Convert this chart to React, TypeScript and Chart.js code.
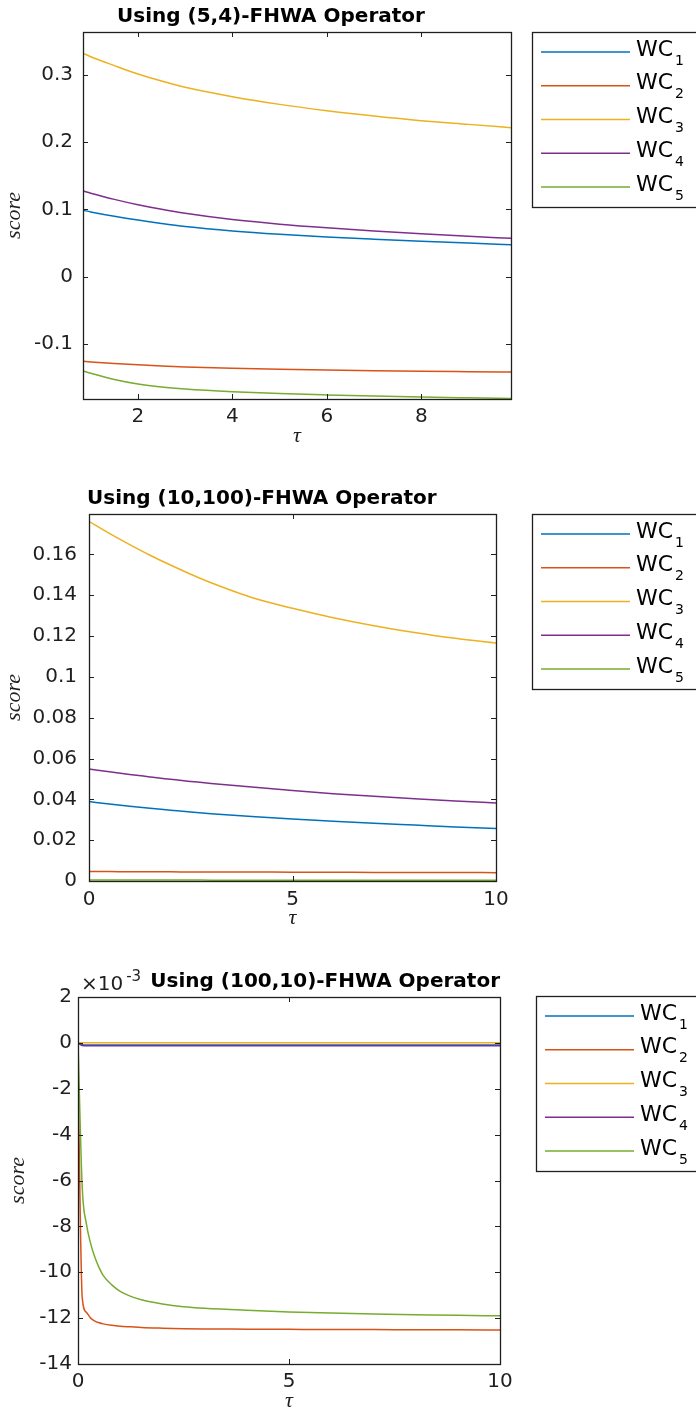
import React, { useEffect, useRef } from 'react';
import { Chart, registerables } from 'chart.js';

Chart.register(...registerables);

// ---------- shared ----------
const COLORS = ['#0072BD', '#D95319', '#EDB120', '#7E2F8E', '#77AC30'];
const SERIES_BASE = 'WC';
const SERIES_SUB = ['1', '2', '3', '4', '5'];
const Y_LABEL = 'score';
const X_LABEL = 'τ';

// ---------- chart 1: (5,4)-FHWA ----------
const TITLE_A = 'Using (5,4)-FHWA Operator';
const TAU_A = [0.84, 1, 1.5, 2, 2.5, 3, 4, 5, 6, 7, 8, 9, 9.9];
const A_WC1 = [0.0985, 0.0962, 0.0897, 0.084, 0.079, 0.0746, 0.068, 0.063, 0.059, 0.0557, 0.0527, 0.0499, 0.0475];
const A_WC2 = [-0.1258, -0.1267, -0.129, -0.1309, -0.1326, -0.134, -0.136, -0.1375, -0.1387, -0.1397, -0.1405, -0.1411, -0.1416];
const A_WC3 = [0.3317, 0.3267, 0.3135, 0.301, 0.2905, 0.2812, 0.2673, 0.2559, 0.2465, 0.2386, 0.2317, 0.2262, 0.2213];
const A_WC4 = [0.1272, 0.124, 0.1148, 0.1068, 0.1, 0.0941, 0.0848, 0.078, 0.0726, 0.068, 0.0638, 0.06, 0.0569];
const A_WC5 = [-0.14, -0.1435, -0.1527, -0.1595, -0.164, -0.167, -0.171, -0.1737, -0.1757, -0.1774, -0.1788, -0.1799, -0.1808];
const A_X = { min: 0.836, max: 9.9, step: 2 };
const A_Y = { min: -0.1817, max: 0.3634, step: 0.1 };

// ---------- chart 2: (10,100)-FHWA ----------
const TITLE_B = 'Using (10,100)-FHWA Operator';
const TAU_B = [0, 0.5, 1, 1.5, 2, 2.5, 3, 4, 5, 6, 7, 8, 9, 10];
const B_WC1 = [0.0389, 0.0377, 0.0366, 0.0356, 0.0347, 0.0338, 0.033, 0.0316, 0.0304, 0.0293, 0.0283, 0.0274, 0.0265, 0.0257];
const B_WC2 = [0.0046, 0.0046, 0.0045, 0.0045, 0.0045, 0.0044, 0.0044, 0.0044, 0.0043, 0.0043, 0.0042, 0.0042, 0.0042, 0.0041];
const B_WC3 = [0.1762, 0.1703, 0.1648, 0.1596, 0.1548, 0.1503, 0.1461, 0.1389, 0.1336, 0.129, 0.1251, 0.1218, 0.1189, 0.1166];
const B_WC4 = [0.0549, 0.0535, 0.0522, 0.051, 0.0498, 0.0488, 0.0478, 0.046, 0.0443, 0.0428, 0.0415, 0.0403, 0.0392, 0.0382];
const B_WC5 = [0.0005, 0.0005, 0.0005, 0.0005, 0.0005, 0.0005, 0.0004, 0.0004, 0.0004, 0.0004, 0.0004, 0.0004, 0.0004, 0.0004];
const B_X = { min: 0, max: 10, step: 5 };
const B_Y = { min: 0, max: 0.1798, step: 0.02 };

// ---------- chart 3: (100,10)-FHWA (values in units of 10^-3) ----------
const TITLE_C = 'Using (100,10)-FHWA Operator';
const EXP_BASE = '×10';
const EXP_POWER = '-3';
const TAU_C = [0, 0.1, 0.2, 0.3, 0.4, 0.5, 0.6, 0.8, 1, 1.25, 1.5, 2, 2.5, 3, 4, 5, 6, 7, 8, 9, 10];
const C_WC1 = [0, -0.08, -0.09, -0.09, -0.09, -0.09, -0.09, -0.09, -0.09, -0.09, -0.09, -0.09, -0.09, -0.09, -0.09, -0.09, -0.09, -0.09, -0.09, -0.09, -0.09];
const C_WC2 = [-1.3, -11.1, -11.75, -12.0, -12.13, -12.2, -12.25, -12.31, -12.35, -12.38, -12.41, -12.44, -12.46, -12.47, -12.48, -12.49, -12.5, -12.5, -12.51, -12.51, -12.52];
const C_WC3 = [0, 0.01, 0.01, 0.01, 0.01, 0.01, 0.01, 0.01, 0.01, 0.01, 0.01, 0.01, 0.01, 0.01, 0.01, 0.01, 0.01, 0.01, 0.01, 0.01, 0.01];
const C_WC4 = [0, -0.12, -0.13, -0.13, -0.13, -0.13, -0.13, -0.13, -0.13, -0.13, -0.13, -0.13, -0.13, -0.13, -0.13, -0.13, -0.13, -0.13, -0.13, -0.13, -0.13];
const C_WC5 = [0, -6.3, -7.9, -8.75, -9.35, -9.8, -10.15, -10.55, -10.83, -11.05, -11.2, -11.38, -11.5, -11.57, -11.66, -11.73, -11.78, -11.82, -11.85, -11.88, -11.9];
const C_X = { min: 0, max: 10, step: 5 };
const C_Y = { min: -14, max: 2, step: 2 };

// ---------- styling ----------
const W = 696;
const AXIS_COLOR = '#1f1f1f';
const TICK_FONT = { family: "'DejaVu Sans'", size: 20 };

type Area = { left: number; right: number; top: number; bottom: number };
type Decor = {
  title: string;
  titleX: number;
  titleY: number;
  titleAlign: CanvasTextAlign;
  legendX: number;
  legendY: number;
  yLabelX: number;
  exponent?: { x: number; y: number };
};

function fmt(v: number) {
  return String(parseFloat(Number(v).toFixed(4)));
}

function makeDecor(d: Decor) {
  return {
    id: 'matlabDecor',
    afterDatasetsDraw(chart: any) {
      const { ctx, chartArea: a, scales } = chart;
      ctx.save();
      // axes box
      ctx.strokeStyle = AXIS_COLOR;
      ctx.lineWidth = 1.3;
      ctx.strokeRect(a.left + 0.5, a.top + 0.5, a.right - a.left, a.bottom - a.top);
      // inward tick marks on all four sides
      ctx.lineWidth = 1;
      const TL = 5;
      ctx.beginPath();
      scales.x.ticks.forEach((t: any) => {
        const px = Math.round(scales.x.getPixelForValue(t.value)) + 0.5;
        ctx.moveTo(px, a.bottom);
        ctx.lineTo(px, a.bottom - TL);
        ctx.moveTo(px, a.top);
        ctx.lineTo(px, a.top + TL);
      });
      scales.y.ticks.forEach((t: any) => {
        const py = Math.round(scales.y.getPixelForValue(t.value)) + 0.5;
        ctx.moveTo(a.left, py);
        ctx.lineTo(a.left + TL, py);
        ctx.moveTo(a.right, py);
        ctx.lineTo(a.right - TL, py);
      });
      ctx.stroke();

      // title
      ctx.fillStyle = '#000';
      ctx.font = "bold 20px 'DejaVu Sans'";
      ctx.textAlign = d.titleAlign;
      ctx.textBaseline = 'middle';
      ctx.fillText(d.title, d.titleX, d.titleY);

      // exponent label
      if (d.exponent) {
        ctx.fillStyle = AXIS_COLOR;
        ctx.textAlign = 'left';
        ctx.font = "20px 'DejaVu Sans'";
        ctx.fillText(EXP_BASE, d.exponent.x, d.exponent.y);
        const w = ctx.measureText(EXP_BASE).width;
        ctx.font = "15px 'DejaVu Sans'";
        ctx.fillText(EXP_POWER, d.exponent.x + w + 3, d.exponent.y - 8);
      }

      // axis titles
      ctx.fillStyle = AXIS_COLOR;
      ctx.font = "italic 22px 'Liberation Serif'";
      ctx.textAlign = 'center';
      ctx.textBaseline = 'middle';
      ctx.fillText(X_LABEL, (a.left + a.right) / 2, a.bottom + 37);
      ctx.save();
      ctx.translate(d.yLabelX, (a.top + a.bottom) / 2);
      ctx.rotate(-Math.PI / 2);
      ctx.fillText(Y_LABEL, 0, 0);
      ctx.restore();

      // legend
      const bx = d.legendX;
      const by = d.legendY;
      const bh = 175;
      ctx.fillStyle = '#fff';
      ctx.fillRect(bx, by, 300, bh);
      ctx.strokeStyle = AXIS_COLOR;
      ctx.lineWidth = 1.3;
      ctx.strokeRect(bx + 0.5, by + 0.5, 300, bh);
      chart.data.datasets.forEach((ds: any, i: number) => {
        const y = by + 20 + i * 33.75;
        ctx.strokeStyle = ds.borderColor;
        ctx.lineWidth = 1.5;
        ctx.beginPath();
        ctx.moveTo(bx + 9, y);
        ctx.lineTo(bx + 98, y);
        ctx.stroke();
        ctx.fillStyle = '#000';
        ctx.textAlign = 'left';
        ctx.textBaseline = 'middle';
        ctx.font = "22px 'DejaVu Sans'";
        ctx.fillText(SERIES_BASE, bx + 104, y - 2);
        const w = ctx.measureText(SERIES_BASE).width;
        ctx.font = "14px 'DejaVu Sans'";
        ctx.fillText(ds.label, bx + 104 + w + 2, y + 9);
      });
      ctx.restore();
    },
  };
}

type Props = {
  top: number;
  height: number;
  area: Area;
  tau: number[];
  series: number[][];
  xr: { min: number; max: number; step: number };
  yr: { min: number; max: number; step: number };
  xPad: number;
  yPad: number;
  decor: Decor;
};

function FhwaChart(p: Props) {
  const ref = useRef<HTMLCanvasElement>(null);
  useEffect(() => {
    if (!ref.current) return;
    const H = p.height;
    const chart = new Chart(ref.current, {
      type: 'line',
      data: {
        datasets: p.series.map((vals, i) => ({
          label: SERIES_SUB[i],
          data: p.tau.map((t, k) => ({ x: t, y: vals[k] })),
          borderColor: COLORS[i],
          backgroundColor: COLORS[i],
          borderWidth: 1.5,
          pointRadius: 0,
          fill: false,
          cubicInterpolationMode: 'monotone',
          order: 5 - i,
        })),
      },
      options: {
        responsive: false,
        animation: false,
        devicePixelRatio: 1,
        events: [],
        layout: { padding: { left: 0, top: p.area.top, right: W - p.area.right, bottom: 0 } },
        plugins: { legend: { display: false }, tooltip: { enabled: false }, title: { display: false } },
        scales: {
          x: {
            type: 'linear',
            min: p.xr.min,
            max: p.xr.max,
            ticks: {
              stepSize: p.xr.step,
              includeBounds: false,
              autoSkip: false,
              maxRotation: 0,
              padding: p.xPad,
              font: TICK_FONT,
              color: AXIS_COLOR,
              callback: (v: any) => fmt(v),
            },
            grid: { display: false, drawTicks: false },
            border: { display: false },
            afterFit: (s: any) => {
              s.height = H - p.area.bottom;
            },
          },
          y: {
            type: 'linear',
            min: p.yr.min,
            max: p.yr.max,
            ticks: {
              stepSize: p.yr.step,
              includeBounds: false,
              autoSkip: false,
              padding: p.yPad,
              font: TICK_FONT,
              color: AXIS_COLOR,
              callback: (v: any) => fmt(v),
            },
            grid: { display: false, drawTicks: false },
            border: { display: false },
            afterFit: (s: any) => {
              s.width = p.area.left;
            },
          },
        },
      } as any,
      plugins: [makeDecor(p.decor)],
    });
    return () => chart.destroy();
  }, []);
  return (
    <canvas
      ref={ref}
      width={W}
      height={p.height}
      style={{ position: 'absolute', left: 0, top: p.top, width: W, height: p.height }}
    />
  );
}

export default function App() {
  return (
    <div style={{ position: 'absolute', left: 0, top: 0, width: W, height: 1410, background: '#fff', overflow: 'hidden' }}>
      <FhwaChart
        top={0}
        height={460}
        area={{ left: 83, right: 511, top: 32, bottom: 399 }}
        tau={TAU_A}
        series={[A_WC1, A_WC2, A_WC3, A_WC4, A_WC5]}
        xr={A_X}
        yr={A_Y}
        xPad={6}
        yPad={10}
        decor={{ title: TITLE_A, titleX: 117, titleY: 17, titleAlign: 'left', legendX: 532, legendY: 32, yLabelX: 14 }}
      />
      <FhwaChart
        top={460}
        height={480}
        area={{ left: 89, right: 496, top: 54, bottom: 421 }}
        tau={TAU_B}
        series={[B_WC1, B_WC2, B_WC3, B_WC4, B_WC5]}
        xr={B_X}
        yr={B_Y}
        xPad={7}
        yPad={12}
        decor={{ title: TITLE_B, titleX: 87, titleY: 39, titleAlign: 'left', legendX: 532, legendY: 54, yLabelX: 14 }}
      />
      <FhwaChart
        top={940}
        height={470}
        area={{ left: 78, right: 500, top: 57, bottom: 424 }}
        tau={TAU_C}
        series={[C_WC1, C_WC2, C_WC3, C_WC4, C_WC5]}
        xr={C_X}
        yr={C_Y}
        xPad={6}
        yPad={6}
        decor={{
          title: TITLE_C,
          titleX: 500,
          titleY: 42,
          titleAlign: 'right',
          legendX: 536,
          legendY: 56,
          yLabelX: 18,
          exponent: { x: 81, y: 45 },
        }}
      />
    </div>
  );
}
